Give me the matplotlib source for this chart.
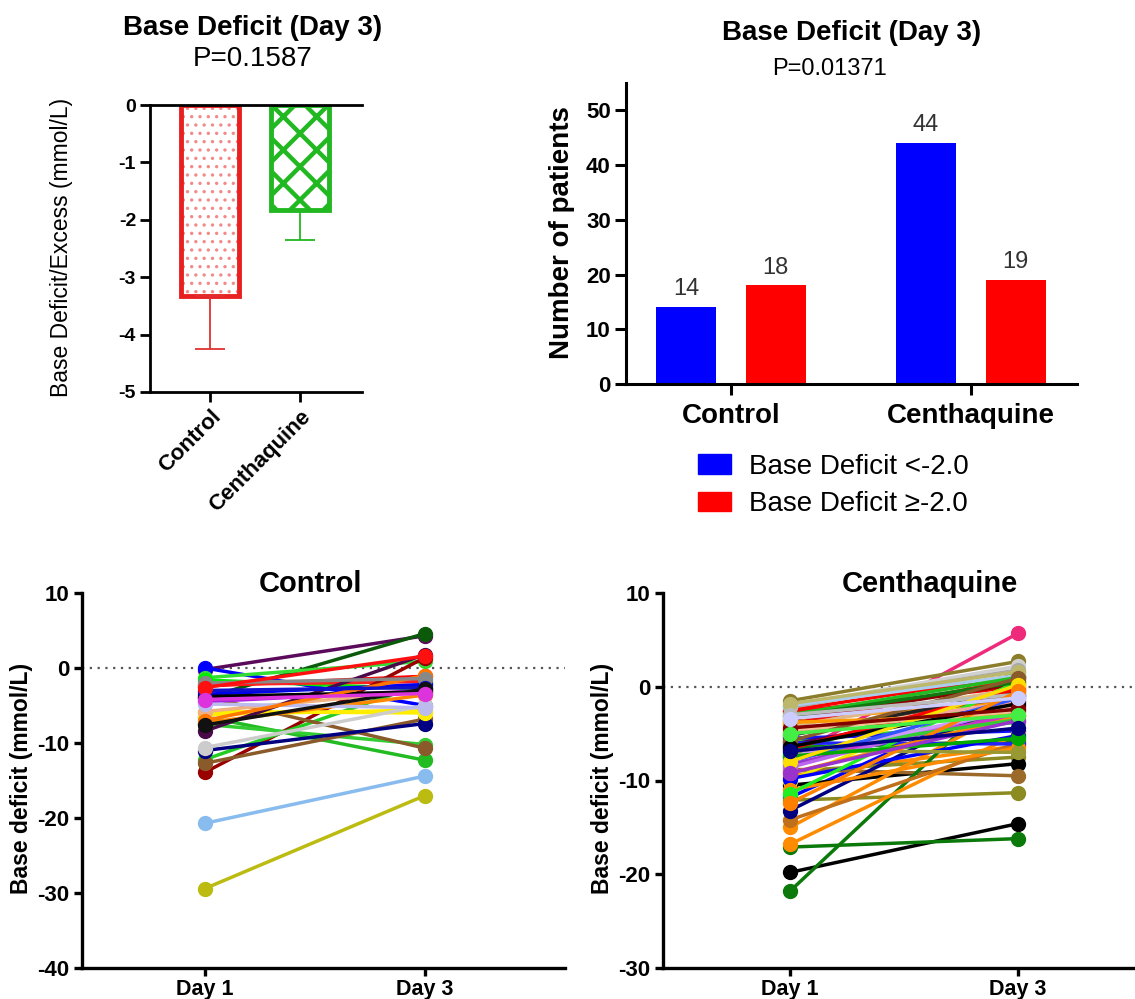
import numpy as np
import matplotlib.pyplot as plt
from matplotlib.patches import Patch

plt.rcParams['font.family'] = ['Liberation Sans', 'DejaVu Sans']
plt.rcParams['axes.unicode_minus'] = False

# ---- data ----
groups = ['Control', 'Centhaquine']
bd_mean = [-3.32, -1.83]
bd_sem = [0.93, 0.52]

count_lt = [14, 44]   # base deficit < -2.0
count_ge = [18, 19]   # base deficit >= -2.0
legend_labels = ['Base Deficit <-2.0', 'Base Deficit \u2265-2.0']

days = ['Day 1', 'Day 3']

ctrl_day1 = [-0.2, -4.0, 0.0, -1.3, -1.6, -2.4, -2.2, -13.9, -12.2, -6.5, -7.5, -3.8,
             -12.7, -11.0, -20.7, -29.4, -5.8, -6.2, -7.3, -5.8, -8.4, -4.5, -3.5, -3.8,
             -10.6, -4.8, -7.0, -2.0, -3.0, -7.6, -2.6, -4.2]
ctrl_day3 = [4.3, 4.6, -5.0, 0.9, -2.8, -1.1, -1.8, 1.4, -2.0, -12.3, -10.2, -10.7,
             -6.8, -7.4, -14.4, -17.0, -6.0, -5.6, -3.6, -3.0, 1.8, -3.0, -2.2, -3.2,
             -5.0, -5.3, -1.0, -1.4, -2.6, -2.8, 1.6, -3.4]
ctrl_colors = ['#5b0a5b', '#0a5a0a', '#0000ff', '#33dd33', '#00ee00', '#ff0000', '#ff2020',
               '#990000', '#22cc22', '#22bb22', '#33cc33', '#8b5a2b', '#8b5a2b', '#000080',
               '#88bbee', '#bbbb11', '#ffee00', '#ffee00', '#ff8800', '#f0b080', '#4a0a4a',
               '#aa22dd', '#0000ee', '#000000', '#cccccc', '#bbbbee', '#ff7700', '#888888',
               '#1010cc', '#111111', '#ff1010', '#dd33dd']

cen_day1 = [-7.5, -1.5, -2.0, -7.2, -2.7, -11.8, -4.5, -8.3, -5.8, -5.5, -6.5, -9.5,
            -9.0, -10.5, -8.8, -12.1, -19.8, -17.1, -21.8, -16.8, -15.0, -14.2, -13.2,
            -10.0, -6.2, -3.6, -2.5, -4.0, -3.5, -2.2, -2.0, -3.0, -6.0, -9.8, -7.8,
            -8.6, -11.0, -9.2, -4.8, -5.2, -4.2, -11.4, -7.0, -6.8, -5.0, -3.2, -7.5,
            -1.8, -6.6, -3.8, -8.0, -7.4, -4.6, -5.8, -3.0, -6.4, -8.0, -12.4, -9.2,
            -4.4, -5.0, -3.4, -6.9]
cen_day3 = [5.7, 2.7, 2.2, 1.5, 0.0, -0.8, -2.0, -2.6, -3.8, -4.7, -5.8, -6.3,
            -7.5, -8.2, -9.5, -11.3, -14.6, -16.2, 1.0, -5.0, -2.0, -6.0, -1.0,
            0.5, -1.5, -1.5, 1.2, 0.8, 0.3, 1.8, 1.2, 1.0, -6.1, -5.2, -3.0,
            -2.2, -6.5, -3.2, -1.0, -0.5, -0.2, 0.6, -3.5, -7.0, -1.6, 0.5, -2.4,
            1.6, -0.2, -3.0, -1.2, -5.5, -2.6, 0.9, -0.8, -1.8, 0.2, -0.5, -3.6,
            -2.4, -3.0, -1.2, -4.4]
cen_colors = ['#ee2a7b', '#8b7d2b', '#d0d0d0', '#22dd22', '#ff0000', '#0000ff', '#f5c090',
              '#9933cc', '#33cc33', '#1010ff', '#117711', '#ff8c00', '#8b8b22', '#000000',
              '#9b6a2b', '#8b8b22', '#000000', '#0b7a0b', '#0b7a0b', '#ff8c00', '#ff8c00',
              '#c0701a', '#000080', '#eeee00', '#550055', '#ff9900', '#ff0000', '#ee1111',
              '#8b0000', '#aaaaaa', '#aaccee', '#22bb22', '#2222ff', '#0000ff', '#cc33cc',
              '#bb66ee', '#ff8c00', '#ff8c00', '#8b5a2b', '#222222', '#deb887', '#22ee22',
              '#33cc33', '#999933', '#f4a6a0', '#117711', '#cc99ff', '#bdb76b', '#ff0000',
              '#ff9900', '#3355ff', '#00aa00', '#f5c090', '#8b5a2b', '#bbbbbb', '#000000',
              '#ffdd00', '#ff8000', '#9933cc', '#800000', '#44ee44', '#ccccff', '#000080']

W, H = 1135, 999
fig = plt.figure(figsize=(W / 100, H / 100), dpi=100)


def box(x0, y0, x1, y1):
    # pixel box -> figure fraction rect
    return [x0 / W, 1 - y1 / H, (x1 - x0) / W, (y1 - y0) / H]


def style(ax, lw=2.0, tl=7):
    for s in ['top', 'right']:
        ax.spines[s].set_visible(False)
    for s in ['left', 'bottom']:
        ax.spines[s].set_linewidth(lw)
    ax.tick_params(direction='out', width=lw, length=tl, pad=3)


# ---- top-left: mean bars ----
ax1 = fig.add_axes(box(150, 105, 362, 392))
style(ax1)
x = np.arange(len(groups))
bw = 0.64
with plt.rc_context({'hatch.linewidth': 1.2}):
    ax1.bar(x[0], bd_mean[0], bw, color='white', edgecolor='#f28a8a', hatch='..', linewidth=0)
with plt.rc_context({'hatch.linewidth': 3.2}):
    ax1.bar(x[1], bd_mean[1], bw, color='white', edgecolor='#22b822', hatch='x', linewidth=0)
ax1.bar(x, bd_mean, bw, fill=False, edgecolor=['#e82020', '#22b822'], linewidth=3.5)
for i, c in enumerate(['#e03030', '#22b822']):
    ax1.errorbar(x[i], bd_mean[i], yerr=[[bd_sem[i]], [0]], color=c, lw=1.3,
                 capsize=11, capthick=1.3, zorder=1)
ax1.axhline(0, color='black', lw=2.0, clip_on=False)
ax1.set_ylim(-5, 0)
ax1.set_xlim(-0.67, 1.69)
ax1.set_yticks(range(-5, 1))
ax1.set_xticks(x)
ax1.set_xticklabels(groups, rotation=45, ha='right', rotation_mode='anchor',
                    fontsize=16, fontweight='bold')
for t in ax1.get_yticklabels():
    t.set_fontsize(14)
    t.set_fontweight('bold')
fig.text(253 / W, 1 - 28 / H, 'Base Deficit (Day 3)', ha='center', va='center',
         fontsize=20, fontweight='bold')
fig.text(253 / W, 1 - 59 / H, 'P=0.1587', ha='center', va='center', fontsize=20)
fig.text(62 / W, 1 - 247 / H, 'Base Deficit/Excess (mmol/L)', rotation=90,
         ha='center', va='center', fontsize=16.5)

# ---- top-right: counts ----
ax2 = fig.add_axes(box(626, 83, 1077, 384))
style(ax2, 2.2, 8)
off, bw2 = 0.187, 0.25
b1 = ax2.bar(x - off, count_lt, bw2, color='#0000ff')
b2 = ax2.bar(x + off, count_ge, bw2, color='#ff0000')
ax2.bar_label(b1, padding=5, fontsize=17, color='#333333')
ax2.bar_label(b2, padding=5, fontsize=17, color='#333333')
ax2.set_ylim(0, 55)
ax2.set_xlim(-0.4375, 1.442)
ax2.set_yticks(range(0, 51, 10))
ax2.set_xticks(x)
ax2.set_xticklabels(groups, fontsize=20, fontweight='bold')
for t in ax2.get_yticklabels():
    t.set_fontsize(16)
    t.set_fontweight('bold')
ax2.tick_params(axis='x', pad=6)
fig.text(852 / W, 1 - 33 / H, 'Base Deficit (Day 3)', ha='center', va='center',
         fontsize=20, fontweight='bold')
fig.text(830 / W, 1 - 69 / H, 'P=0.01371', ha='center', va='center', fontsize=17)
fig.text(562 / W, 1 - 233 / H, 'Number of patients', rotation=90, ha='center',
         va='center', fontsize=20, fontweight='bold')
handles = [Patch(color='#0000ff'), Patch(color='#ff0000')]
ax2.legend(handles, legend_labels, loc='upper left', bbox_to_anchor=(698 / W, 1 - 454 / H),
           bbox_transform=fig.transFigure, frameon=False, fontsize=20,
           handlelength=1.2, handleheight=0.72, labelspacing=0.4, handletextpad=0.65,
           borderpad=0, borderaxespad=0)


# ---- bottom: paired lines ----
def paired(ax, d1, d3, cols, ylim, xlim):
    style(ax, 2.4, 6)
    for a, b, c in zip(d1, d3, cols):
        ax.plot([0, 1], [a, b], '-o', color=c, lw=2.5, ms=10)
    ax.axhline(0, color='#555555', lw=1.6, ls=(0, (1, 2.5)), zorder=0)
    ax.set_ylim(*ylim)
    ax.set_xlim(*xlim)
    ax.set_xticks([0, 1])
    ax.set_xticklabels(days, fontsize=15.5, fontweight='bold')
    ax.tick_params(axis='x', pad=2)
    ax.set_yticks(range(ylim[0], ylim[1] + 1, 10))
    for t in ax.get_yticklabels():
        t.set_fontsize(16)
        t.set_fontweight('bold')


ax3 = fig.add_axes(box(82, 593, 565, 968))
paired(ax3, ctrl_day1, ctrl_day3, ctrl_colors, (-40, 10), (-0.559, 1.636))
fig.text(310 / W, 1 - 584 / H, 'Control', ha='center', va='center', fontsize=21,
         fontweight='bold')
fig.text(22 / W, 1 - 778 / H, 'Base deficit (mmol/L)', rotation=90, ha='center',
         va='center', fontsize=16.5, fontweight='bold')

ax4 = fig.add_axes(box(663, 593, 1140, 968))
paired(ax4, cen_day1, cen_day3, cen_colors, (-30, 10), (-0.557, 1.535))
fig.text(930 / W, 1 - 584 / H, 'Centhaquine', ha='center', va='center', fontsize=21,
         fontweight='bold')
fig.text(602 / W, 1 - 778 / H, 'Base deficit (mmol/L)', rotation=90, ha='center',
         va='center', fontsize=16.5, fontweight='bold')

fig.savefig('out.png', dpi=100)
